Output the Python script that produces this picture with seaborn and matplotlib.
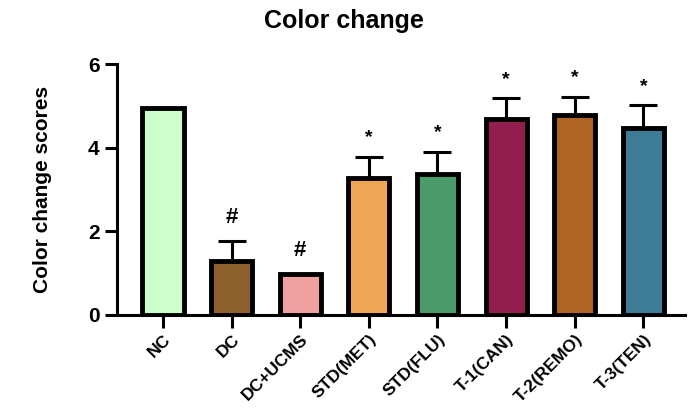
"""Color change scores bar chart."""
import matplotlib
matplotlib.use("Agg")
import matplotlib.pyplot as plt
import pandas as pd
import seaborn as sns

groups = ["NC", "DC", "DC+UCMS", "STD(MET)", "STD(FLU)", "T-1(CAN)", "T-2(REMO)", "T-3(TEN)"]
means = [4.95, 1.28, 0.98, 3.28, 3.38, 4.68, 4.78, 4.48]
sems = [0.0, 0.5, 0.0, 0.5, 0.52, 0.5, 0.44, 0.54]
marks = ["", "#", "#", "*", "*", "*", "*", "*"]
colors = ["#CCFFCC", "#8C5F2C", "#F0A0A0", "#F0A555", "#4A9A6A", "#921E4E", "#B06424", "#3D7B96"]

sns.set_theme(style="ticks")
plt.rcParams["font.family"] = ["Liberation Sans", "DejaVu Sans"]
plt.rcParams.update({"text.color": "black", "axes.labelcolor": "black",
                     "xtick.color": "black", "ytick.color": "black",
                     "axes.edgecolor": "black"})

df = pd.DataFrame({"group": groups, "score": means})

fig = plt.figure(figsize=(6.88, 4.08), dpi=100)
ax = fig.add_axes([0.170, 0.228, 0.825, 0.615])

sns.barplot(data=df, x="group", y="score", hue="group", palette=colors,
            saturation=1, width=0.6, edgecolor="black", linewidth=3.5,
            legend=False, ax=ax)

ax.errorbar(range(len(groups)), means, yerr=[[0] * len(groups), sems],
            fmt="none", ecolor="black", elinewidth=2.2, capsize=10, capthick=2.2, zorder=1)

for i, (m, s, mk) in enumerate(zip(means, sems, marks)):
    if not mk:
        continue
    top = m + s
    if mk == "#":
        ax.text(i, top + 0.3, mk, ha="center", va="bottom", fontsize=16, fontweight="bold")
    else:
        ax.text(i, top + 0.25, mk, ha="center", va="bottom", fontsize=14, fontweight="bold")

ax.set_ylim(0, 6)
ax.set_xlim(-0.67, 7.6)
ax.set_yticks([0, 2, 4, 6])
ax.set_xlabel("")
ax.set_ylabel("Color change scores", fontsize=15, fontweight="bold", labelpad=26)
ax.set_title("Color change", fontsize=18, fontweight="bold", pad=26, x=0.40)

for side in ["top", "right"]:
    ax.spines[side].set_visible(False)
for side in ["left", "bottom"]:
    ax.spines[side].set_linewidth(2.2)
ax.spines["left"].set_bounds(0, 6)

ax.tick_params(axis="both", width=2.2, length=9, labelsize=15)
ax.tick_params(axis="x", pad=3)
ax.set_xticks(range(len(groups)))
ax.set_xticklabels(groups, rotation=45, ha="right", rotation_mode="anchor",
                   fontweight="bold", fontsize=12.5)
for lbl in ax.get_yticklabels():
    lbl.set_fontweight("bold")

fig.savefig("out.png", dpi=100)
